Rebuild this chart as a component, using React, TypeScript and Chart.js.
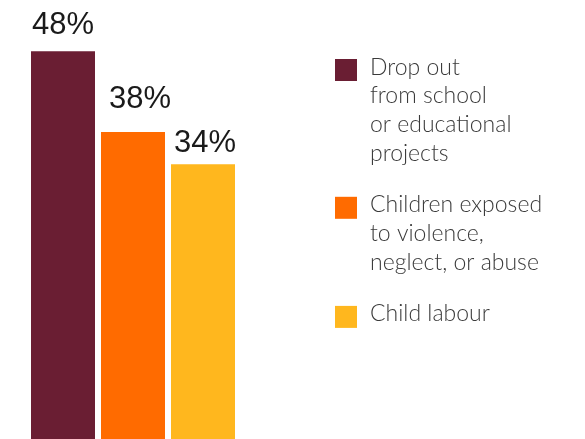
import React, { useEffect, useRef } from "react";
import { Chart, registerables } from "chart.js";

Chart.register(...registerables);

const categories = ["Drop out from school or educational projects", "Children exposed to violence, neglect, or abuse", "Child labour"];
const values = [48, 38, 34];
const valueLabels = ["48%", "38%", "34%"];
const colors = ["#6A1E33", "#FF6B00", "#FFB71E"];
const legendLines = [
  ["Drop out", "from school", "or educational", "projects"],
  ["Children exposed", "to violence,", "neglect, or abuse"],
  ["Child labour"],
];

// label placement tweaks (style only)
const labelGapY = [17, 24, 12];
const labelShiftX = [0, 7, 2];

const labelPlugin = {
  id: "valueLabels",
  afterDatasetsDraw(chart: any) {
    const ctx = chart.ctx;
    const meta = chart.getDatasetMeta(0);
    ctx.save();
    ctx.font = "31px 'Liberation Sans', Arial, sans-serif";
    ctx.fillStyle = "#1a1a1a";
    ctx.textAlign = "center";
    ctx.textBaseline = "alphabetic";
    meta.data.forEach((bar: any, i: number) => {
      ctx.fillText(valueLabels[i], bar.x + labelShiftX[i], bar.y - labelGapY[i]);
    });
    ctx.restore();
  },
};

const legendPlugin = {
  id: "customLegend",
  afterDraw(chart: any) {
    const ctx = chart.ctx;
    ctx.save();
    const boxX = 335;
    const textX = 370;
    const lineH = 28.7;
    let top = 59;
    ctx.font = "300 23px Lato, sans-serif";
    ctx.textAlign = "left";
    ctx.textBaseline = "alphabetic";
    legendLines.forEach((lines, i) => {
      ctx.fillStyle = colors[i];
      ctx.fillRect(boxX, top, 22, 22);
      ctx.fillStyle = "#3a3a3a";
      lines.forEach((ln, j) => {
        ctx.fillText(ln, textX, top + 15.5 + j * lineH);
      });
      top += lines.length * lineH + 23;
    });
    ctx.restore();
  },
};

export default function App() {
  const ref = useRef<HTMLCanvasElement>(null);
  useEffect(() => {
    document.body.style.margin = "0";
    const chart = new Chart(ref.current!, {
      type: "bar",
      data: {
        labels: categories,
        datasets: [
          {
            data: values,
            backgroundColor: colors,
            borderWidth: 0,
            barPercentage: 64 / 70,
            categoryPercentage: 1,
          },
        ],
      },
      options: {
        responsive: false,
        animation: false,
        layout: { padding: { left: 28, right: 347, top: 0, bottom: 0 } },
        plugins: { legend: { display: false }, tooltip: { enabled: false } },
        scales: {
          x: { display: false },
          y: { display: false, min: 0, max: 54.33 },
        },
      },
      plugins: [labelPlugin, legendPlugin],
    });
    return () => chart.destroy();
  }, []);
  return <canvas ref={ref} width={585} height={439} style={{ display: "block" }} />;
}
